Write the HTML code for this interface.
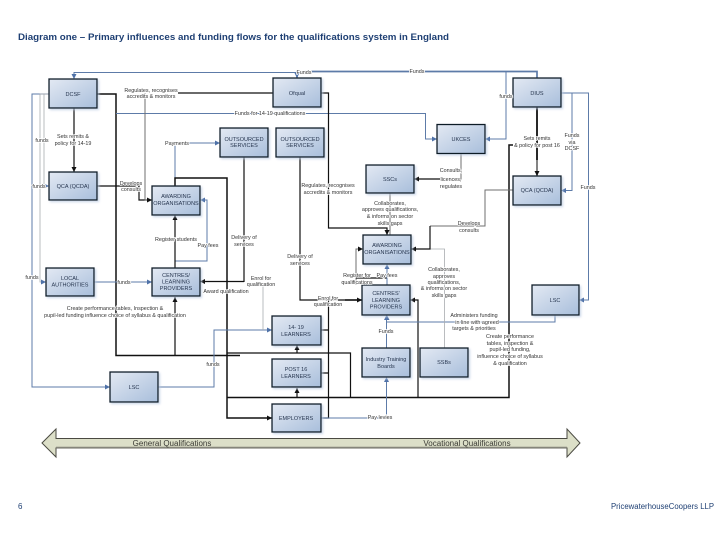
<!DOCTYPE html>
<html><head><meta charset="utf-8"><title>Diagram one</title>
<style>
html,body{margin:0;padding:0;background:#fff;width:720px;height:540px;overflow:hidden}
svg{display:block;font-family:"Liberation Sans",sans-serif;filter:blur(.3px)}
.k{fill:none;stroke:#111;stroke-width:1.2}
.k2{fill:none;stroke:#111;stroke-width:1.5}
.g{fill:none;stroke:#6f6f6f;stroke-width:1}
.lg{fill:none;stroke:#a9acb0;stroke-width:.8}
.b{fill:none;stroke:#5d7ba8;stroke-width:1}
.b2{fill:none;stroke:#5d7ba8;stroke-width:1.7}
.box{fill:url(#grad);stroke:#111a28;stroke-width:1.3;filter:url(#sh)}
.t{font-size:5.4px;fill:#333;text-anchor:middle;paint-order:stroke;stroke:#fff;stroke-width:1.6px;stroke-linejoin:round}
.n{font-size:5.5px;fill:#27364f;text-anchor:middle}
.ak{fill:#111}.ab{fill:#4f72a8}
</style></head><body>
<svg width="720" height="540" viewBox="0 0 720 540" xmlns="http://www.w3.org/2000/svg">
<defs>
<linearGradient id="grad" x1="0" y1="0" x2="1" y2="1"><stop offset="0" stop-color="#e3e9f3"/><stop offset="1" stop-color="#a8bedb"/></linearGradient>
<filter id="sh" x="-10%" y="-10%" width="125%" height="130%"><feDropShadow dx="1.5" dy="1.5" stdDeviation="1" flood-color="#b9c9e2" flood-opacity=".7"/></filter>
</defs>
<text x="18" y="40" font-size="9" font-weight="bold" fill="#1e3f73" textLength="431" lengthAdjust="spacingAndGlyphs">Diagram one – Primary influences and funding flows for the qualifications system in England</text>

<!-- top funding lines -->
<path class="lg" d="M74 79V72.500H297"/>
<path class="b" d="M74 79V72.500H297"/>
<path class="b2" d="M297 78V71.500H537V78"/>
<path class="b" d="M506 71.500V139H485"/>
<!-- left side -->
<path class="b" d="M49 94H32V387H110"/>
<path class="lg" d="M49 94H40V282H46"/>
<path class="lg" d="M44 94V186H49"/>
<path class="k" d="M74 108V172"/>
<path class="k2" d="M97 94H116V355.500H240"/>
<path class="k" d="M97 186H116"/>
<path class="k" d="M116 186H139V200H152"/>
<path class="b" d="M116 113.500H425.500V139H437"/>
<path class="k" d="M273 93H178"/>
<path class="g" d="M145 93V200H152"/>
<path class="b" d="M175 186V143H220"/>
<path class="k2" d="M175 186V178H227V418H272"/>
<path class="k" d="M244 157V282"/>
<path class="k" d="M244 281.500H200"/>
<path class="b" d="M175 268V261H207V200H200"/>
<path class="k" d="M175 268V215"/>
<path class="k" d="M175 355.500V297"/>
<path class="b" d="M94 282H152"/>
<path class="b" d="M158 387H214V330H272"/>
<path class="lg" d="M263 285V330"/>
<!-- centre -->
<path class="k" d="M300 157V300H362"/>
<path class="k2" d="M345 300H362"/>
<path class="k" d="M321 93H328.500V228H387V235"/>
<path class="k" d="M328.500 300V418H321"/>
<path class="k" d="M321 330H328.500M321 373H328.500"/>
<path class="k" d="M227 353H297V345M297 353H350.500V397"/>
<path class="k2" d="M227 397.500H509V145H513"/>
<path class="k" d="M297 397.500V388"/>
<path class="b" d="M321 418H386.500V377"/>
<path class="b" d="M386.500 348V315"/>
<path class="g" d="M356 285V249H363"/>
<path class="k" d="M356 278H387"/>
<path class="b" d="M387 285V264"/>
<path class="k" d="M418 397V300H410"/>
<path class="b" d="M387 322H555V315"/>
<path class="lg" d="M444.500 348V249H411"/>
<path class="g" d="M461 153V179H414"/>
<path class="k" d="M414 179H440"/>
<path class="g" d="M390 193V235"/>
<path class="g" d="M513 190H485V226H430"/>
<path class="k" d="M430 226V249H411"/>
<!-- right -->
<path style="fill:none;stroke:#111;stroke-width:1.8" d="M537 107V160"/>
<path style="fill:none;stroke:#777;stroke-width:1.8" d="M537 160V176"/>
<path class="b" d="M561 93H572V190.500H561"/>
<path class="b" d="M561 93H588.500V300H579"/>

<!-- arrowheads -->
<path class="ab" d="M74 79l-2.500-5h5zM297 78l-2.500-5h5zM437 139l-5-2.500v5zM485 139l5-2.500v5zM110 387l-5-2.500v5zM46 282l-5-2.500v5zM49 186l-4-2v4zM220 143l-5-2.500v5zM152 282l-5-2.500v5zM200 200l5-2.500v5zM272 330l-5-2.500v5zM387 264l-2.500 5h5zM386.500 315l-2.500 5h5zM386.500 377l-2.500 5h5zM387 315l-2.500 5h5zM561 190.500l5-2.500v5zM579 300l5-2.500v5z"/>
<path class="ak" d="M74 172l-2.500-5h5zM152 200l-5-2.500v5zM175 215l-2.500 5h5zM175 297l-2.500 5h5zM200 281.500l5-2.500v5zM272 418l-5-2.500v5zM297 345l-2.500 5h5zM297 388l-2.500 5h5zM362 300l-5-2.500v5zM387 235l-2.500-5h5zM363 249l-5-2.500v5zM411 249l5-2.500v5zM414 179l5-2.500v5zM410 300l5-2.500v5zM537 176l-2.500-5h5z"/>

<!-- boxes -->
<rect class="box" x="49" y="79" width="48" height="29"/>
<rect class="box" x="49" y="172" width="48" height="28"/>
<rect class="box" x="152" y="186" width="48" height="29"/>
<rect class="box" x="220" y="128" width="48" height="29"/>
<rect class="box" x="276" y="128" width="48" height="29"/>
<rect class="box" x="273" y="78" width="48" height="29"/>
<rect class="box" x="437" y="124.500" width="48" height="29"/>
<rect class="box" x="366" y="165" width="48" height="28"/>
<rect class="box" x="513" y="78" width="48" height="29"/>
<rect class="box" x="513" y="176" width="48" height="29"/>
<rect class="box" x="363" y="235" width="48" height="29"/>
<rect class="box" x="362" y="285" width="48" height="30"/>
<rect class="box" x="420" y="348" width="48" height="29"/>
<rect class="box" x="362" y="348" width="48" height="29"/>
<rect class="box" x="272" y="316" width="49" height="29"/>
<rect class="box" x="272" y="359" width="49" height="28"/>
<rect class="box" x="272" y="404" width="49" height="28"/>
<rect class="box" x="110" y="372" width="48" height="30"/>
<rect class="box" x="46" y="268" width="48" height="28"/>
<rect class="box" x="152" y="268" width="48" height="28"/>
<rect class="box" x="532" y="285" width="47" height="30"/>

<text class="n" x="73" y="96">DCSF</text>
<text class="n" x="73" y="188">QCA (QCDA)</text>
<text class="n" x="176" y="198">AWARDING</text><text class="n" x="176" y="205">ORGANISATIONS</text>
<text class="n" x="244" y="141">OUTSOURCED</text><text class="n" x="244" y="147" font-size="5">SERVICES</text>
<text class="n" x="300" y="141">OUTSOURCED</text><text class="n" x="300" y="147">SERVICES</text>
<text class="n" x="297" y="95">Ofqual</text>
<text class="n" x="461" y="141">UKCES</text>
<text class="n" x="390" y="181">SSCs</text>
<text class="n" x="537" y="95">DIUS</text>
<text class="n" x="537" y="192" font-size="5">QCA (QCDA)</text>
<text class="n" x="387" y="247">AWARDING</text><text class="n" x="387" y="254">ORGANISATIONS</text>
<text class="n" x="386" y="295">CENTRES'</text><text class="n" x="386" y="302">LEARNING</text><text class="n" x="386" y="308.500">PROVIDERS</text>
<text class="n" x="444" y="364">SSBs</text>
<text class="n" x="386" y="361">Industry Training</text><text class="n" x="386" y="368">Boards</text>
<text class="n" x="296" y="329">14- 19</text><text class="n" x="296" y="336">LEARNERS</text>
<text class="n" x="296" y="371">POST 16</text><text class="n" x="296" y="378">LEARNERS</text>
<text class="n" x="296" y="420">EMPLOYERS</text>
<text class="n" x="134" y="389">LSC</text>
<text class="n" x="70" y="280">LOCAL</text><text class="n" x="70" y="286.500">AUTHORITIES</text>
<text class="n" x="176" y="277">CENTRES/</text><text class="n" x="176" y="283.500">LEARNING</text><text class="n" x="176" y="290">PROVIDERS</text>
<text class="n" x="555" y="302">LSC</text>

<!-- labels -->
<text class="t" x="151" y="92">Regulates, recognises</text><text class="t" x="151" y="98">accredits &amp; monitors</text>
<text class="t" x="73" y="138">Sets remits &amp;</text><text class="t" x="73" y="145">policy for 14-19</text>
<text class="t" x="42" y="142">funds</text>
<text class="t" x="39" y="188">funds</text>
<text class="t" x="32" y="279">funds</text>
<text class="t" x="131" y="185">Develops</text><text class="t" x="131" y="191">consults</text>
<text class="t" x="177" y="145">Payments</text>
<text class="t" x="270" y="115">Funds for 14-19 qualifications</text>
<text class="t" x="304" y="74">Funds</text>
<text class="t" x="417" y="73">Funds</text>
<text class="t" x="506" y="98">funds</text>
<text class="t" x="176" y="241">Register students</text>
<text class="t" x="208" y="247">Pay fees</text>
<text class="t" x="244" y="239">Delivery of</text><text class="t" x="244" y="246">services</text>
<text class="t" x="124" y="284">funds</text>
<text class="t" x="115" y="310">Create performance  tables, Inspection &amp;</text>
<text class="t" x="115" y="317">pupil-led funding  influence choice of syllabus &amp; qualification</text>
<text class="t" x="226" y="293">Award qualification</text>
<text class="t" x="261" y="280">Enrol for</text><text class="t" x="261" y="286">qualification</text>
<text class="t" x="213" y="366">funds</text>
<text class="t" x="328" y="187">Regulates, recognises</text><text class="t" x="328" y="194">accredits &amp; monitors</text>
<text class="t" x="300" y="258">Delivery of</text><text class="t" x="300" y="265">services</text>
<text class="t" x="328" y="300">Enrol for</text><text class="t" x="328" y="306">qualification</text>
<text class="t" x="357" y="277">Register for</text><text class="t" x="357" y="284">qualifications</text>
<text class="t" x="387" y="277">Pay fees</text>
<text class="t" x="386" y="333">Funds</text>
<text class="t" x="380" y="419">Pay levies</text>
<text class="t" x="390" y="205">Collaborates,</text><text class="t" x="390" y="211">approves qualifications,</text><text class="t" x="390" y="218">&amp; informs on sector</text><text class="t" x="390" y="225">skills gaps</text>
<text class="t" x="451" y="172">Consults,</text><text class="t" x="451" y="181">licences,</text><text class="t" x="451" y="188">regulates</text>
<text class="t" x="469" y="225">Develops</text><text class="t" x="469" y="232">consults</text>
<text class="t" x="444" y="271">Collaborates,</text><text class="t" x="444" y="278">approves</text><text class="t" x="444" y="284">qualifications,</text><text class="t" x="444" y="290">&amp; informs on sector</text><text class="t" x="444" y="297">skills gaps</text>
<text class="t" x="474" y="317">Administers funding</text><text class="t" x="477" y="324">in line with agreed</text><text class="t" x="474" y="330">targets &amp; priorities</text>
<text class="t" x="510" y="338">Create performance</text><text class="t" x="510" y="345">tables, inspection &amp;</text><text class="t" x="510" y="351">pupil-led funding,</text><text class="t" x="510" y="358">influence choice of syllabus</text><text class="t" x="510" y="365">&amp; qualification</text>
<text class="t" x="537" y="140">Sets remits</text><text class="t" x="537" y="147">&amp; policy for post 16</text>
<text class="t" x="572" y="137">Funds</text><text class="t" x="572" y="144">via</text><text class="t" x="572" y="150">DCSF</text>
<text class="t" x="588" y="189">Funds</text>

<!-- bottom arrow -->
<path d="M42 443L56 429V438.500H567V429L580 443L567 457V448H56V457Z" fill="#dcdfc8" stroke="#4a4a42" stroke-width="1"/>
<path d="M56 447.500H567" stroke="#85857a" stroke-width="1.500"/>
<text x="172" y="446" font-size="8" fill="#3a3a34" text-anchor="middle">General Qualifications</text>
<text x="467" y="446" font-size="8" fill="#3a3a34" text-anchor="middle">Vocational Qualifications</text>

<text x="18" y="509" font-size="8" fill="#1e3f73">6</text>
<text x="611" y="509" font-size="8" fill="#1e3f73" textLength="103" lengthAdjust="spacingAndGlyphs">PricewaterhouseCoopers LLP</text>
</svg>
</body></html>
